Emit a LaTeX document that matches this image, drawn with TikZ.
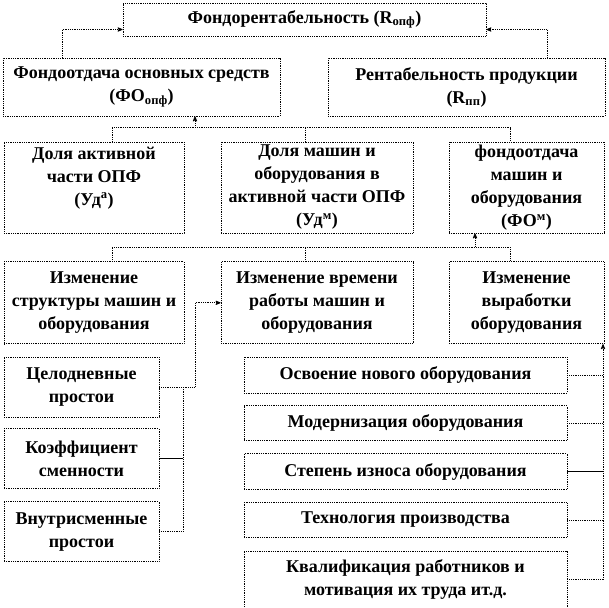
\documentclass[tikz,border=0pt]{standalone}
\usepackage{fontspec}
\setmainfont{Liberation Serif}
\usetikzlibrary{arrows,positioning}

\begin{document}
\begin{tikzpicture}[x=1pt,y=-1pt,>=stealth',
  main box/.style={draw,densely dotted,line width=.8pt,align=center,inner sep=2pt,
    font=\bfseries\fontsize{18}{23}\selectfont},
  link/.style={densely dotted,line width=.8pt},
  solid link/.style={solid,line width=.8pt}]
  \useasboundingbox (0,0) rectangle (609,607);

  \node[main box,minimum width=363pt,minimum height=33pt] (top) at (304.5,19.5)
    {Фондорентабельность (R\textsubscript{опф})};
  \node[main box,minimum width=277pt,minimum height=58pt] (fo) at (141.5,87)
    {Фондоотдача основных средств\\(ФО\textsubscript{опф})};
  \node[main box,minimum width=277pt,minimum height=58pt] (rp) at (466.5,87)
    {Рентабельность продукции\\(R\textsubscript{пп})};

  \node[main box,minimum width=180pt,minimum height=91pt] (da) at (94,187.5)
    {Доля активной\\части ОПФ\\(Уд\textsuperscript{а})\\\mbox{}};
  \node[main box,minimum width=192pt,minimum height=91pt] (db) at (317,187.5)
    {Доля машин и\\оборудования в\\активной части ОПФ\\(Уд\textsuperscript{м})};
  \node[main box,minimum width=155pt,minimum height=91pt] (tc) at (526.5,187.5)
    {фондоотдача\\машин и\\оборудования\\(ФО\textsuperscript{м})};

  \node[main box,minimum width=180pt,minimum height=82pt] (ia) [below=28pt of da]
    {Изменение\\структуры машин и\\оборудования};
  \node[main box,minimum width=192pt,minimum height=82pt] (ib) [below=28pt of db]
    {Изменение времени\\работы машин и\\оборудования};
  \node[main box,minimum width=155pt,minimum height=82pt] (ic) [below=28pt of tc]
    {Изменение\\выработки\\оборудования};

  \node[main box,minimum width=155pt,minimum height=60pt] (cel) at (81.5,387)
    {Целодневные\\простои};
  \node[main box,minimum width=155pt,minimum height=60pt] (kf) [below=11pt of cel]
    {Коэффициент\\сменности};
  \node[main box,minimum width=155pt,minimum height=60pt] (vn) [below=12pt of kf]
    {Внутрисменные\\простои};

  \node[main box,minimum width=323pt,minimum height=36pt] (os) at (405.5,375)
    {Освоение нового оборудования};
  \node[main box,minimum width=323pt,minimum height=35pt] (md) [below=12pt of os]
    {Модернизация оборудования};
  \node[main box,minimum width=323pt,minimum height=36pt] (st) [below=12pt of md]
    {Степень износа оборудования};
  \node[main box,minimum width=323pt,minimum height=35pt] (th) [below=12pt of st]
    {Технология производства};
  \node[main box,minimum width=323pt,minimum height=57pt] (kv) [below=13pt of th]
    {Квалификация работников и\\мотивация их труда ит.д.};

  \coordinate (lbus) at (183,0);
  \coordinate (lup) at (195,0);
  \coordinate (rbus) at (603,0);

  \draw[link,->] ([xshift=-79.5pt]fo.north) |- ([yshift=-10pt]top.west);
  \draw[link,->] ([xshift=80.5pt]rp.north) |- ([yshift=-10pt]top.east);
  \draw[link,<-] ([xshift=53.5pt]fo.south) -- ++(0,12);

  \draw[link] ([xshift=18pt]da.north) -- ++(0,-14) -| ([xshift=-16pt]tc.north);
  \draw[link] ([xshift=-12pt]db.north) -- ++(0,-14);
  \draw[link] ([xshift=18pt]ia.north) -- ++(0,-14) -| ([xshift=-16pt]ic.north);
  \draw[link] ([xshift=-12pt]ib.north) -- ++(0,-14);
  \draw[link,<-] ([xshift=-51.5pt]tc.south) -- ++(0,14);

  \draw[link,->] (cel.east) -| (lup |- ib.west) -- (ib.west);
  \draw[link] (cel.east -| lbus) -- (vn.east -| lbus) -- (vn.east);
  \draw[solid link] (kf.east) -- (kf.east -| lbus);

  \draw[link,->] (kv.east -| rbus) -- (rbus |- ic.south);
  \draw[link] (kv.east) -- (kv.east -| rbus);
  \draw[link] (os.east) -- (os.east -| rbus);
  \draw[link] (md.east) -- (md.east -| rbus);
  \draw[solid link] (st.east) -- (st.east -| rbus);
  \draw[link] (th.east) -- (th.east -| rbus);
\end{tikzpicture}
\end{document}
